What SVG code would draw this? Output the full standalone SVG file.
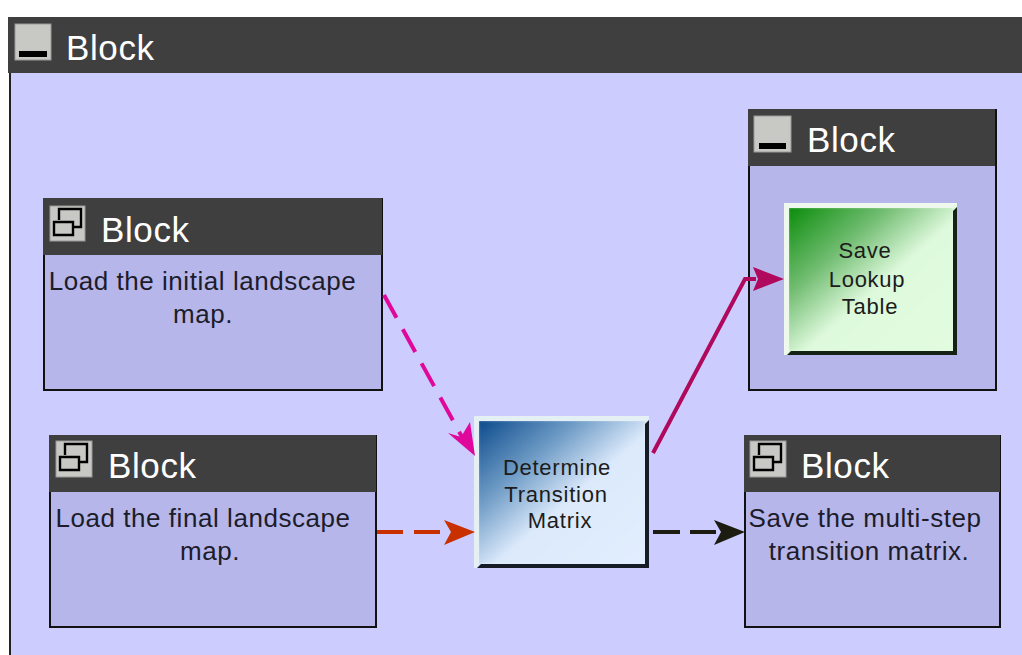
<svg xmlns="http://www.w3.org/2000/svg" width="1022" height="655" viewBox="0 0 1022 655">
<style>
text{font-family:"Liberation Sans",Arial,sans-serif}
.title{font-size:35px;fill:#fff;letter-spacing:.6px}
.body{font-size:26px;fill:#1c1c2a;text-anchor:middle;letter-spacing:.55px}
.small{font-size:22px;fill:#1c1c1c;text-anchor:middle;letter-spacing:.75px}
.panel{fill:#b6b6ea;stroke:#111;stroke-width:2}
.bar{fill:#3f3f3f}
.btn{fill:#c8c8c4;stroke:#999;stroke-width:1}
.ic{fill:none;stroke:#000;stroke-width:2.4}
.c{fill:none;stroke-width:4}
</style>
<defs>
<linearGradient id="blue" x1="0" y1="0" x2="1" y2="1"><stop offset="0" stop-color="#0c4a8c"/><stop offset=".3" stop-color="#6f9cc6"/><stop offset=".55" stop-color="#dbe9fb"/><stop offset="1" stop-color="#e2eefe"/></linearGradient>
<linearGradient id="green" x1="0" y1="0" x2="1" y2="1"><stop offset="0" stop-color="#0a8c0a"/><stop offset=".3" stop-color="#70bc70"/><stop offset=".55" stop-color="#def9dc"/><stop offset="1" stop-color="#e2fcdf"/></linearGradient>
<filter id="soft" x="-5%" y="-5%" width="110%" height="110%"><feGaussianBlur stdDeviation="1.5"/></filter>
<filter id="edge" x="-5%" y="-5%" width="110%" height="110%"><feGaussianBlur stdDeviation="0.7"/></filter>
</defs>
<rect width="1022" height="655" fill="#fff"/>
<g id="outer">
<rect x="10" y="18" width="1014" height="640" fill="#ccccfe" stroke="#222" stroke-width="2"/>
<rect class="bar" x="8" y="17" width="1014" height="56"/>
<rect class="btn" x="15" y="24" width="36" height="36"/>
<rect x="19" y="51" width="28" height="6" fill="#000"/>
<text class="title" x="66" y="60">Block</text>
</g>
<g id="block-initial">
<rect class="panel" x="44" y="199" width="338" height="191"/>
<rect class="bar" x="43" y="198" width="339" height="57"/>
<rect class="btn" x="50" y="206" width="35" height="35"/>
<path class="ic" d="M59 220V209H81V227H73M54 222H73V235H54Z"/>
<text class="title" x="101" y="242">Block</text>
<text class="body" x="202.500" y="290">Load the initial landscape</text>
<text class="body" x="203" y="323">map.</text>
</g>
<g id="block-final">
<rect class="panel" x="50" y="436" width="326" height="191"/>
<rect class="bar" x="49" y="435" width="327" height="57"/>
<rect class="btn" x="56" y="441" width="36" height="36"/>
<path class="ic" d="M65 455V444H87V462H79M60 457H79V470H60Z"/>
<text class="title" x="108" y="478">Block</text>
<text class="body" x="203" y="527">Load the final landscape</text>
<text class="body" x="210" y="560">map.</text>
</g>
<g id="block-lookup">
<rect class="panel" x="749" y="110" width="247" height="280"/>
<rect class="bar" x="748" y="109" width="247" height="57"/>
<rect class="btn" x="754" y="116" width="37" height="36"/>
<rect x="759" y="143" width="27" height="6" fill="#000"/>
<text class="title" x="807" y="152">Block</text>
<g id="save-lookup">
<rect x="784" y="203" width="173" height="152" fill="#e2fcdf"/>
<g filter="url(#soft)"><rect x="788" y="207" width="165" height="144" fill="url(#green)"/></g>
<g filter="url(#edge)">
<path fill="#eef8ec" d="M784 203H957L953 208H789V351L784 355Z"/>
<path fill="#162016" d="M957 207V355H787L791 351H953V211Z"/>
</g>
<text class="small" x="865" y="258">Save</text>
<text class="small" x="867" y="287">Lookup</text>
<text class="small" x="870" y="314">Table</text>
</g>
</g>
<g id="determine">
<rect x="474" y="416" width="175" height="152" fill="#e2eefe"/>
<g filter="url(#soft)"><rect x="478" y="420" width="167" height="144" fill="url(#blue)"/></g>
<g filter="url(#edge)">
<path fill="#e4f0f4" d="M474 416H649L645 421H479V564L474 568Z"/>
<path fill="#141c28" d="M649 420V568H477L481 564H645V424Z"/>
</g>
<text class="small" x="557" y="475">Determine</text>
<text class="small" x="556" y="502">Transition</text>
<text class="small" x="560" y="528">Matrix</text>
</g>
<g id="block-save">
<rect class="panel" x="745" y="436" width="255" height="191"/>
<rect class="bar" x="744" y="435" width="256" height="57"/>
<rect class="btn" x="750" y="441" width="36" height="36"/>
<path class="ic" d="M759 455V444H781V462H773M754 457H773V470H754Z"/>
<text class="title" x="801" y="478">Block</text>
<text class="body" x="865" y="527">Save the multi-step</text>
<text class="body" x="869" y="560">transition matrix.</text>
</g>
<g id="connectors">
<path class="c" stroke="#e0089c" stroke-dasharray="26 13" d="M384 295L462 437"/>
<path fill="#e0089c" d="M475 456L448 433L461 437L470 422Z"/>
<path class="c" stroke="#c83000" stroke-dasharray="26 11" d="M377 532H446"/>
<path fill="#c83000" d="M475 532L444 520L451 532L444 545Z"/>
<path class="c" stroke="#b0085c" d="M653 453L745 279H756"/>
<path fill="#b0085c" d="M784 279L753 267L758 279L753 291Z"/>
<path class="c" stroke="#1c1c10" stroke-dasharray="27 10" d="M653 532H716"/>
<path fill="#1c1c10" d="M745 532L714 520L721 532L714 545Z"/>
</g>
</svg>
